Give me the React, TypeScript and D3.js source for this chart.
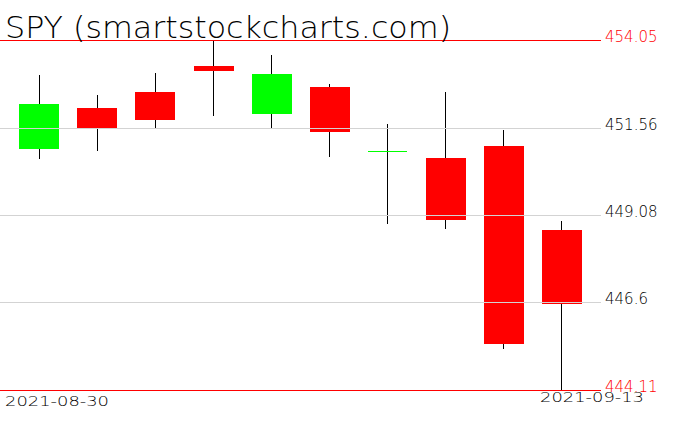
import React, { useEffect } from "react";
import * as d3 from "d3";

const dates = ["2021-08-30", "2021-08-31", "2021-09-01", "2021-09-02", "2021-09-03", "2021-09-07", "2021-09-08", "2021-09-09", "2021-09-10", "2021-09-13"];
const opens = [450.96, 452.12, 452.57, 453.31, 451.95, 452.72, 450.89, 450.70, 451.04, 448.65];
const highs = [453.06, 452.49, 453.11, 454.05, 453.62, 452.80, 451.66, 452.57, 451.49, 448.91];
const lows = [450.68, 450.91, 451.55, 451.89, 451.55, 450.74, 448.83, 448.69, 445.28, 444.11];
const closes = [452.23, 451.55, 451.78, 453.17, 453.08, 451.45, 450.91, 448.94, 445.42, 446.56];
const tickValues = [454.05, 451.56, 449.08, 446.6, 444.11];
const tickLabels = ["454.05", "451.56", "449.08", "446.6", "444.11"];
const title = "SPY (smartstockcharts.com)";

const W = 676;
const H = 431;

export default function App() {
  useEffect(() => {
    document.body.style.margin = "0";
  }, []);

  const y = d3.scaleLinear().domain([444.11, 454.05]).range([390, 40]);
  const x = d3.scalePoint<string>().domain(dates).range([10, 591]).padding(0.5);
  const bw = x.step() * 0.68;
  const font = "'DejaVu Sans', sans-serif";
  const lineEnd = 601;

  return (
    <svg width={W} height={H} style={{ position: "absolute", left: 0, top: 0, background: "#fff" }} shapeRendering="crispEdges">
      <rect x={0} y={0} width={W} height={H} fill="#fff" />
      {/* wicks */}
      {dates.map((d, i) => {
        const cx = Math.floor(x(d)!) + 0.5;
        return <line key={"w" + d} x1={cx} x2={cx} y1={Math.round(y(highs[i]))} y2={Math.round(y(lows[i]))} stroke="#000" strokeWidth={1} />;
      })}
      {/* bodies */}
      {dates.map((d, i) => {
        const cx = x(d)!;
        const up = closes[i] >= opens[i];
        const color = up ? "#00ff00" : "#ff0000";
        const top = Math.round(y(Math.max(opens[i], closes[i])));
        const bot = Math.round(y(Math.min(opens[i], closes[i])));
        if (bot - top < 2) {
          return <line key={"b" + d} x1={Math.round(cx - bw / 2)} x2={Math.round(cx + bw / 2)} y1={top + 0.5} y2={top + 0.5} stroke={color} strokeWidth={1} />;
        }
        return <rect key={"b" + d} x={Math.round(cx - bw / 2)} y={top} width={Math.round(bw)} height={bot - top} fill={color} />;
      })}
      {/* grid and bounds */}
      {tickValues.map((v, i) => {
        const yy = Math.round(y(v)) + 0.5;
        const edge = i === 0 || i === tickValues.length - 1;
        return <line key={"g" + i} x1={0} x2={lineEnd} y1={yy} y2={yy} stroke={edge ? "#ff0000" : "#d3d3d3"} strokeWidth={1} />;
      })}
      {tickValues.map((v, i) => {
        const edge = i === 0 || i === tickValues.length - 1;
        return (
          <text key={"t" + i} x={605} y={Math.round(y(v)) + 1.5} fontFamily={font} fontWeight={200} fontSize={15} fill={edge ? "#ff0000" : "#000"}>
            {tickLabels[i]}
          </text>
        );
      })}
      <text x={5} y={406} fontFamily={font} fontWeight={200} fontSize={14} fill="#000" textLength={104} lengthAdjust="spacingAndGlyphs">
        {dates[0]}
      </text>
      <text x={540} y={402} fontFamily={font} fontWeight={200} fontSize={14} fill="#000" textLength={104} lengthAdjust="spacingAndGlyphs">
        {dates[dates.length - 1]}
      </text>
      <text x={5} y={38} fontFamily={font} fontWeight={200} fontSize={31} fill="#000" textLength={446} lengthAdjust="spacingAndGlyphs">
        {title}
      </text>
    </svg>
  );
}
